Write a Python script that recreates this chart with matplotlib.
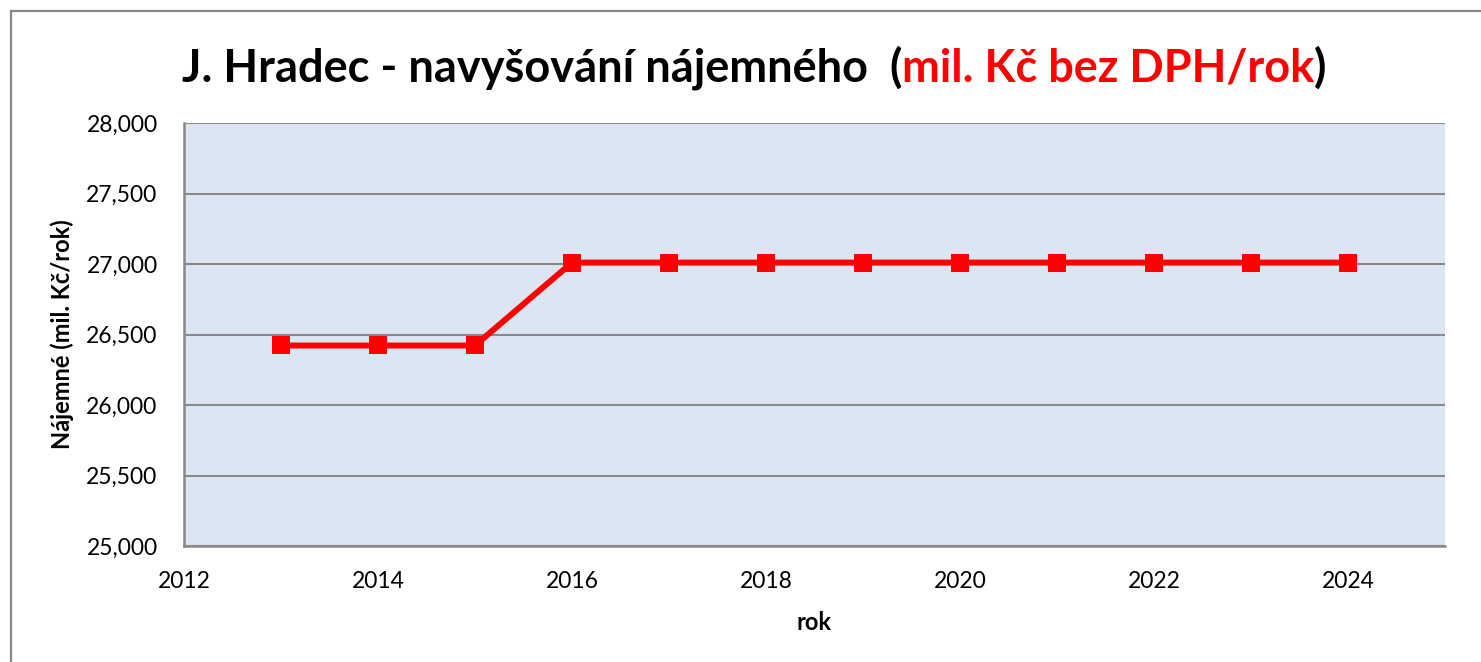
import matplotlib
matplotlib.use("Agg")
import matplotlib.pyplot as plt
from matplotlib.ticker import FuncFormatter, MultipleLocator
from matplotlib.lines import Line2D

years = [2013, 2014, 2015, 2016, 2017, 2018, 2019, 2020, 2021, 2022, 2023, 2024]
najemne = [26422, 26422, 26422, 27010, 27010, 27010, 27010, 27010, 27010, 27010, 27010, 27010]
x_ticks = [2012, 2014, 2016, 2018, 2020, 2022, 2024]
title_parts = [("J. Hradec - navyšování nájemného  (", "black"),
               ("mil. Kč bez DPH/rok", "#FF0000"),
               (")", "black")]
x_label = "rok"
y_label = "Nájemné (mil. Kč/rok)"

plt.rcParams['font.family'] = ['Lato', 'DejaVu Sans']

W, H = 1481, 662
fig = plt.figure(figsize=(W / 100, H / 100), dpi=100)
ax = fig.add_axes([184 / W, 1 - 546 / H, (1445 - 184) / W, (546 - 123) / H])
ax.set_facecolor("#DCE6F2")

ax.plot(years, najemne, color="#FF0000", lw=4.3, marker="s", ms=13.5,
        markeredgewidth=0, zorder=3, solid_joinstyle="miter")

ax.set_xlim(2012, 2025)
ax.set_ylim(25000, 28000)
ax.set_xticks(x_ticks)
ax.yaxis.set_major_locator(MultipleLocator(500))
ax.yaxis.set_major_formatter(FuncFormatter(lambda v, p: f"{int(v):,}"))
ax.grid(axis="y", color="#898989", lw=1.5, zorder=1)
ax.set_axisbelow(True)
for s in ["top", "right"]:
    ax.spines[s].set_visible(False)
for s in ["left", "bottom"]:
    ax.spines[s].set_color("#898989")
    ax.spines[s].set_linewidth(1.8)
ax.tick_params(axis="both", length=0, labelsize=16.5, colors="black")
ax.tick_params(axis="y", pad=19)
ax.tick_params(axis="x", pad=18)
ax.set_xlabel(x_label, fontsize=17, fontweight="bold", labelpad=14)
ax.set_ylabel(y_label, fontsize=17, fontweight="bold", labelpad=9)

# outer frame (left and top edges visible)
fig.add_artist(Line2D([11 / W, 11 / W], [0, 1 - 11 / H], transform=fig.transFigure,
                      color="#888888", lw=1.6))
fig.add_artist(Line2D([11 / W, 1], [1 - 11 / H, 1 - 11 / H], transform=fig.transFigure,
                      color="#888888", lw=1.6))

# multi-coloured title
fig.canvas.draw()
renderer = fig.canvas.get_renderer()
texts = []
widths = []
for s, c in title_parts:
    t = fig.text(0, 0, s, color=c, fontsize=32.5, fontweight="bold", va="center", ha="left")
    bb = t.get_window_extent(renderer=renderer)
    texts.append(t)
    widths.append(bb.width)
total = sum(widths)
cx = 754
x0 = cx - total / 2
yc = 1 - 68 / H
for t, w in zip(texts, widths):
    t.set_position((x0 / W, yc))
    x0 += w

fig.savefig("out.png", dpi=100)
